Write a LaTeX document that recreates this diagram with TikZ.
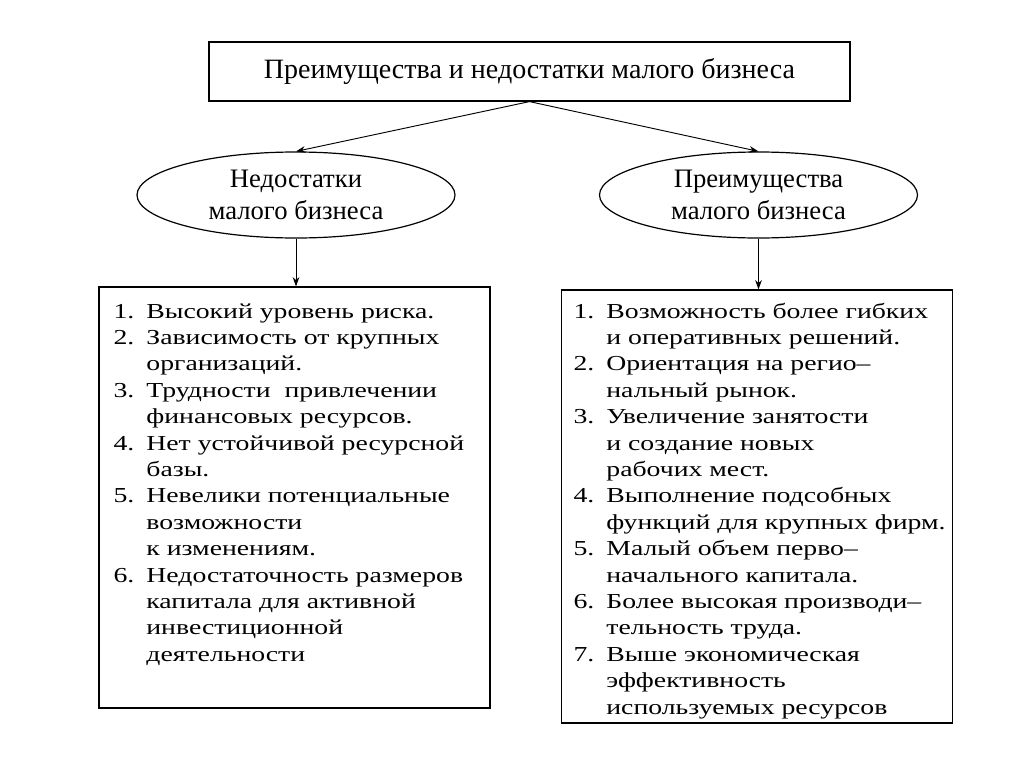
\documentclass[tikz,border=0pt]{standalone}
\usepackage{fontspec}
\setmainfont{Liberation Serif}
\newfontfamily\listfont[FakeStretch=1.3]{Liberation Serif}
\usetikzlibrary{shapes.geometric,arrows.meta}

\tikzset{
  every path/.style={line width=0.9pt},
  conn/.style={draw, line width=0.7pt, -{Stealth[length=7pt,width=5pt]}},
  oval/.style={draw, ellipse, minimum width=238.5pt, minimum height=64.5pt, inner sep=0pt, align=center, font=\fontsize{20}{24}\selectfont},
  listbox/.style={draw, minimum width=293.25pt, inner sep=0pt},
  listtext/.style={anchor=north west, inner sep=0pt, font=\listfont\fontsize{16}{19.8}\selectfont}
}

\begin{document}
\begin{tikzpicture}[x=0.75pt,y=0.75pt,yscale=-1,xscale=1]

\useasboundingbox (0,0) rectangle (1024,767);

\node (title) [draw, minimum width=480.75pt, minimum height=44.25pt, inner sep=0pt, font=\fontsize{21}{25}\selectfont] at (529.5,71.5) {Преимущества и недостатки малого бизнеса};

\node (minus) [oval] at (296,195) {Недостатки\\малого бизнеса};

\node (plus) [oval] at (758.5,195) {Преимущества\\малого бизнеса};

\node (minusbox) [listbox, minimum height=315.75pt] at (294.5,497.5) {};

\node (plusbox) [listbox, minimum height=324.75pt] at (757,506.5) {};

\node (minuslist) [listtext] at (113,299) {\begin{tabular}{@{}l@{\hspace{9pt}}l@{}}
1. & Высокий уровень риска.\\
2. & Зависимость от крупных\\
   & организаций.\\
3. & Трудности\ \ привлечении\\
   & финансовых ресурсов.\\
4. & Нет устойчивой ресурсной\\
   & базы.\\
5. & Невелики потенциальные\\
   & возможности\\
   & к изменениям.\\
6. & Недостаточность размеров\\
   & капитала для активной\\
   & инвестиционной\\
   & деятельности
\end{tabular}};

\node (pluslist) [listtext] at (573,299) {\begin{tabular}{@{}l@{\hspace{9pt}}l@{}}
1. & Возможность более гибких\\
   & и оперативных решений.\\
2. & Ориентация на регио–\\
   & нальный рынок.\\
3. & Увеличение занятости\\
   & и создание новых\\
   & рабочих мест.\\
4. & Выполнение подсобных\\
   & функций для крупных фирм.\\
5. & Малый объем перво–\\
   & начального капитала.\\
6. & Более высокая производи–\\
   & тельность труда.\\
7. & Выше экономическая\\
   & эффективность\\
   & используемых ресурсов
\end{tabular}};

\draw [conn] (title.south) -- (minus.north);
\draw [conn] (title.south) -- (plus.north);
\draw [conn] (minus.south) -- (minus.south |- minusbox.north);
\draw [conn] (plus.south) -- (plus.south |- plusbox.north);

\end{tikzpicture}
\end{document}
